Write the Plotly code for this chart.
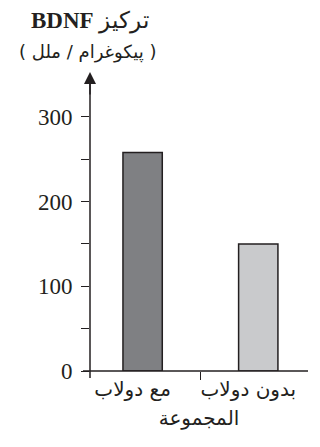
import plotly.graph_objects as go

categories = ["مع دولاب", "بدون دولاب"]
values = [258, 150]
bar_colors = ["#7f8083", "#c9cacc"]
y_tickvals = [0, 100, 200, 300]
y_minor = [50, 150, 250]

INK = "#231f20"
SERIF = "Liberation Serif, DejaVu Serif, serif"
AR = "DejaVu Sans, Noto Sans, sans-serif"

fig = go.Figure()
fig.add_trace(go.Bar(
    x=categories, y=values, width=0.34,
    marker=dict(color=bar_colors, line=dict(color=INK, width=1.5)),
))

W, H = 320, 447
L, R, T, B = 90, 12, 72, 76
ph = H - T - B
pw = W - L - R

fig.update_layout(
    width=W, height=H,
    margin=dict(l=L, r=R, t=T, b=B),
    paper_bgcolor="white", plot_bgcolor="white",
    showlegend=False,
    xaxis=dict(
        range=[-0.455, 1.43], showgrid=False, zeroline=False, showline=False,
        ticks="outside", tickson="boundaries", ticklen=8, tickcolor=INK, tickwidth=1.3,
        tickfont=dict(family=AR, size=20, color=INK),
        ticklabelshift=-10, ticklabelstandoff=4,
        title=dict(text="المجموعة", font=dict(family=AR, size=20, color=INK), standoff=10),
        fixedrange=True,
    ),
    yaxis=dict(
        range=[0, 353], showgrid=False, zeroline=False, showline=False,
        tickvals=y_tickvals, ticks="outside", ticklen=8, tickcolor=INK, tickwidth=1.3,
        tickfont=dict(family=SERIF, size=23, color=INK),
        ticklabelstandoff=4,
        minor=dict(tickvals=y_minor, ticks="outside", ticklen=8, tickcolor=INK, tickwidth=1.3),
        fixedrange=True,
    ),
    shapes=[
        dict(type="line", xref="paper", yref="paper", x0=-7 / pw, x1=1, y0=0, y1=0,
             line=dict(color=INK, width=1.5)),
        dict(type="line", xref="paper", yref="paper", x0=0, x1=0, y0=-7 / ph, y1=0.97,
             line=dict(color=INK, width=1.5)),
    ],
    annotations=[
        dict(xref="paper", yref="paper", x=0, y=1, ax=0, ay=24, axref="pixel", ayref="pixel",
             showarrow=True, arrowhead=2, arrowsize=1.6, arrowwidth=1.5, arrowcolor=INK, text=""),
        dict(xref="paper", yref="paper", x=0, y=1 + 51 / ph, xanchor="center", yanchor="middle",
             text="<b>BDNF</b> تركيز", showarrow=False,
             font=dict(family=SERIF, size=23, color=INK)),
        dict(xref="paper", yref="paper", x=-3 / pw, y=1 + 20 / ph, xanchor="center", yanchor="middle",
             text="( پيكوغرام / ملل )", showarrow=False,
             font=dict(family=AR, size=18, color=INK)),
    ],
)

fig.write_html("out.html")
